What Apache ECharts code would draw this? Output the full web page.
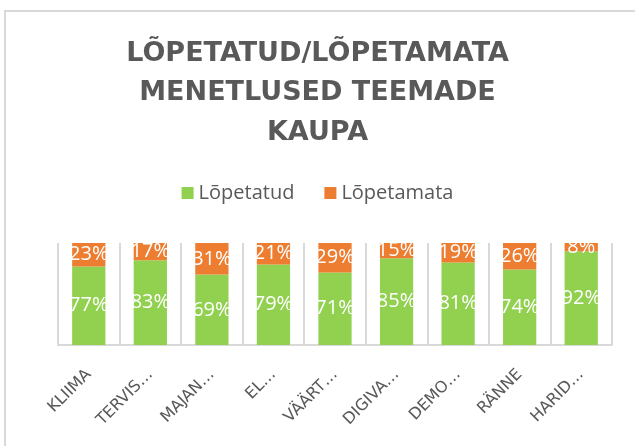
<!DOCTYPE html>
<html>
<head>
<meta charset="utf-8">
<script src="https://cdn.jsdelivr.net/npm/echarts@6/dist/echarts.min.js"></script>
<style>
html, body { margin: 0; padding: 0; background: #fff; }
#chart { width: 635px; height: 446px; }
</style>
</head>
<body>
<div id="chart"></div>
<script>
var categories = ['KLIIMA', 'TERVIS…', 'MAJAN…', 'EL…', 'VÄÄRT…', 'DIGIVA…', 'DEMO…', 'RÄNNE', 'HARID…'];
var lopetatud = [77, 83, 69, 79, 71, 85, 81, 74, 92];
var lopetamata = [23, 17, 31, 21, 29, 15, 19, 26, 8];

var myChart = echarts.init(document.getElementById('chart'));
var option = {
	animation: false,
	color: ['#92d050', '#ed7d31'],
	graphic: [{
		type: 'rect',
		shape: { x: 5, y: 11, width: 700, height: 500 },
		style: { fill: 'none', stroke: '#d9d9d9', lineWidth: 2 },
		silent: true
	}],
	title: {
		text: 'LÕPETATUD/LÕPETAMATA\nMENETLUSED TEEMADE\nKAUPA',
		left: 'center',
		top: 29,
		textStyle: {
			fontFamily: 'DejaVu Sans',
			fontWeight: 'bold',
			fontSize: 27,
			lineHeight: 39.5,
			color: '#595959'
		}
	},
	legend: {
		data: ['Lõpetatud', 'Lõpetamata'],
		top: 178,
		left: 'center',
		icon: 'rect',
		itemWidth: 12,
		itemHeight: 12,
		itemGap: 30,
		textStyle: {
			fontFamily: 'Open Sans',
			fontSize: 20,
			color: '#595959'
		}
	},
	grid: {
		left: 58,
		right: 23,
		top: 243,
		bottom: 101
	},
	xAxis: {
		type: 'category',
		data: categories,
		axisTick: { show: false },
		axisLine: { lineStyle: { color: '#d9d9d9', width: 2 } },
		splitLine: { show: true, lineStyle: { color: '#d9d9d9', width: 2 } },
		axisLabel: {
			rotate: 45,
			margin: 27,
			interval: 0,
			fontFamily: 'DejaVu Sans',
			fontSize: 16,
			color: '#595959'
		}
	},
	yAxis: {
		type: 'value',
		min: 0,
		max: 100,
		show: false,
		splitLine: { show: false }
	},
	series: [{
		name: 'Lõpetatud',
		type: 'bar',
		stack: 'total',
		barCategoryGap: '46%',
		data: lopetatud,
		label: {
			show: true,
			position: 'inside',
			formatter: '{c}%',
			color: '#fff',
			fontFamily: 'Open Sans',
			fontSize: 20
		}
	}, {
		name: 'Lõpetamata',
		type: 'bar',
		stack: 'total',
		barCategoryGap: '46%',
		data: lopetamata,
		label: {
			show: true,
			position: 'inside',
			formatter: '{c}%',
			color: '#fff',
			fontFamily: 'Open Sans',
			fontSize: 20
		}
	}]
};

myChart.setOption(option);
</script>
</body>
</html>
